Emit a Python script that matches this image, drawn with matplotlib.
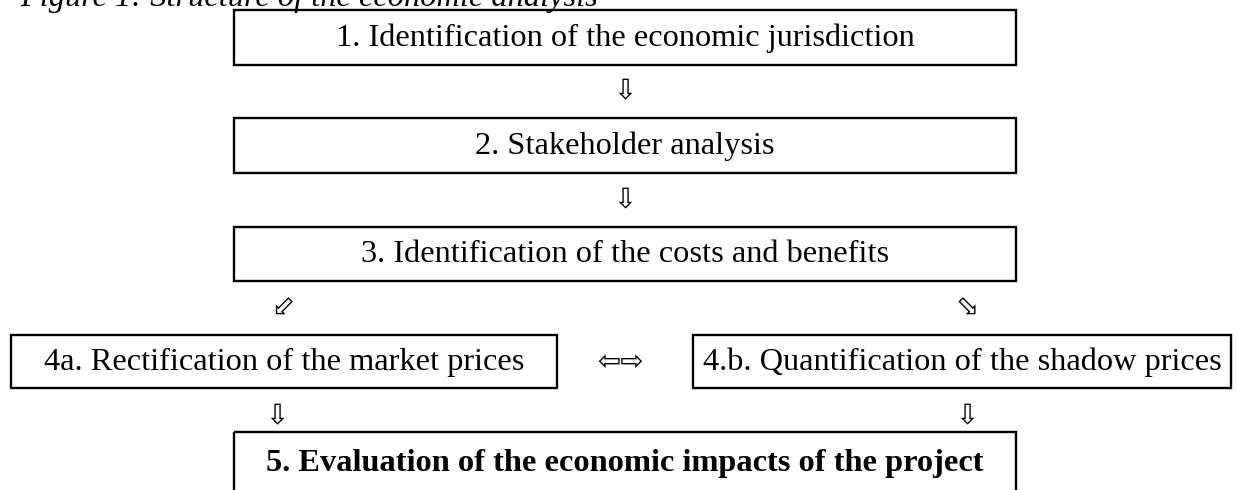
import matplotlib.pyplot as plt
from matplotlib.patches import Rectangle

# box texts of the flowchart
box_labels = [
    "1. Identification of the economic jurisdiction",
    "2. Stakeholder analysis",
    "3. Identification of the costs and benefits",
    "4a. Rectification of the market prices",
    "4.b. Quantification of the shadow prices",
    "5. Evaluation of the economic impacts of the project",
]
box_bold = [False, False, False, False, False, True]
# arrow glyphs between boxes
arrow_glyphs = ["\u21e9", "\u21e9", "\u2b03", "\u2b02", "\u21e6\u21e8", "\u21e9", "\u21e9"]
title = "Figure 1: Structure of the economic analysis"

# layout in pixels (x0, y0, x1, y1), y going down
box_pos = [
    (234, 10, 1016, 65),
    (234, 118, 1016, 173),
    (234, 227, 1016, 281),
    (11, 335, 557, 388),
    (693, 335, 1231, 388),
    (234, 432, 1016, 540),
]
text_y = [38, 146, 254, 362, 362, 463]
arrow_pos = [(625, 91), (625, 200), (283, 308), (967, 308), (620, 362), (277, 416), (967, 416)]

W, H = 1236, 490
fig = plt.figure(figsize=(W / 100, H / 100), dpi=100)
ax = fig.add_axes([0, 0, 1, 1])
ax.set_xlim(0, W)
ax.set_ylim(H, 0)
ax.axis("off")

serif = ["Liberation Serif", "DejaVu Sans"]

for lab, bold, ty, (x0, y0, x1, y1) in zip(box_labels, box_bold, text_y, box_pos):
    ax.add_patch(Rectangle((x0, y0), x1 - x0, y1 - y0, fill=False,
                           edgecolor="black", linewidth=1.7))
    ax.text((x0 + x1) / 2, ty, lab, ha="center", va="center",
            fontsize=23.3, family=serif,
            fontweight="bold" if bold else "normal")

for g, (x, y) in zip(arrow_glyphs, arrow_pos):
    ax.text(x, y, g, ha="center", va="center", fontsize=20,
            family=["DejaVu Sans"])

ax.text(20, 6, title, ha="left", va="baseline", fontsize=23.3,
        family=serif, style="italic")

fig.savefig("out.png", dpi=100)
